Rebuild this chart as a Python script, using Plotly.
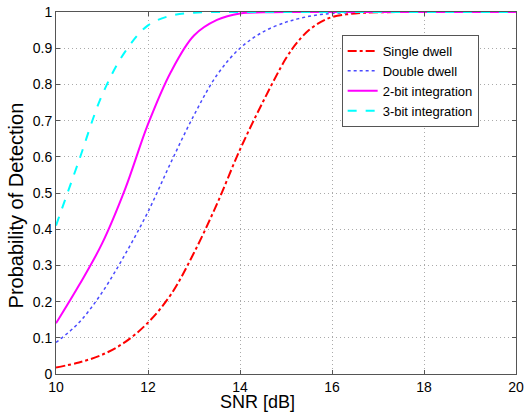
import plotly.graph_objects as go

snr = [10, 10.5, 11, 11.5, 12, 12.5, 13, 13.5, 14, 14.5, 15, 15.25, 15.5, 15.75, 16, 16.5, 17, 18, 19, 20]

single_dwell = [0.018, 0.032, 0.053, 0.088, 0.142, 0.22, 0.335, 0.47, 0.62, 0.752, 0.872, 0.917, 0.95, 0.972, 0.986, 0.996, 0.999, 1.0, 1.0, 1.0]
double_dwell = [0.087, 0.142, 0.225, 0.33, 0.448, 0.585, 0.715, 0.826, 0.90, 0.945, 0.972, 0.981, 0.988, 0.993, 0.996, 0.999, 1.0, 1.0, 1.0, 1.0]
two_bit = [0.14, 0.245, 0.36, 0.51, 0.69, 0.835, 0.935, 0.978, 0.996, 0.999, 1.0, 1.0, 1.0, 1.0, 1.0, 1.0, 1.0, 1.0, 1.0, 1.0]
three_bit = [0.41, 0.59, 0.77, 0.89, 0.963, 0.99, 0.998, 1.0, 1.0, 1.0, 1.0, 1.0, 1.0, 1.0, 1.0, 1.0, 1.0, 1.0, 1.0, 1.0]

y_ticks = [0, 0.1, 0.2, 0.3, 0.4, 0.5, 0.6, 0.7, 0.8, 0.9, 1]
y_labels = ["0", "0.1", "0.2", "0.3", "0.4", "0.5", "0.6", "0.7", "0.8", "0.9", "1"]
x_ticks = [10, 12, 14, 16, 18, 20]

fig = go.Figure()

# one trace per detection scheme, MATLAB-like line styles
fig.add_trace(go.Scatter(x=snr, y=single_dwell, mode='lines', name='Single dwell',
                         line=dict(color='red', width=2, dash='dashdot', shape='spline')))
fig.add_trace(go.Scatter(x=snr, y=double_dwell, mode='lines', name='Double dwell',
                         line=dict(color='#4a4aff', width=1.5, dash='dot', shape='spline')))
fig.add_trace(go.Scatter(x=snr, y=two_bit, mode='lines', name='2-bit integration',
                         line=dict(color='magenta', width=2, shape='spline')))
fig.add_trace(go.Scatter(x=snr, y=three_bit, mode='lines', name='3-bit integration',
                         line=dict(color='cyan', width=2, dash='dash', shape='spline')))

axis_style = dict(showline=True, linecolor='#555555', linewidth=1, mirror='allticks',
                  ticks='inside', ticklen=4, tickcolor='#555555', automargin=False,
                  ticklabeloverflow='allow',
                  showgrid=True, gridcolor='#aaaaaa', griddash='1px,3px', gridwidth=1,
                  zeroline=False, tickfont=dict(size=14, color='black'))

fig.update_xaxes(range=[10, 20], tickvals=x_ticks, **axis_style)
fig.update_yaxes(range=[0, 1], tickvals=y_ticks, ticktext=y_labels, **axis_style)

# axis titles as annotations so they sit where the original puts them
fig.add_annotation(text='SNR [dB]', xref='paper', yref='paper', x=0.439, y=-0.078,
                   xanchor='center', yanchor='middle', showarrow=False, font=dict(size=18))
fig.add_annotation(text='Probability of Detection', xref='paper', yref='paper', x=-0.086, y=0.467,
                   xanchor='center', yanchor='middle', textangle=-90, showarrow=False,
                   font=dict(size=20))

fig.update_layout(
    width=525, height=412,
    margin=dict(l=56, r=9, t=12, b=38),
    plot_bgcolor='white', paper_bgcolor='white',
    font=dict(family='Liberation Sans, Arial', color='black'),
    showlegend=True,
    legend=dict(x=0.621, y=0.9365, xanchor='left', yanchor='top',
                bgcolor='white', bordercolor='#555555', borderwidth=1,
                font=dict(size=13), tracegroupgap=0),
)

# drop the default body margin so the figure fills the window exactly
fig.write_html("out.html", config={'displayModeBar': False},
               post_script="document.body.style.margin='0';")
